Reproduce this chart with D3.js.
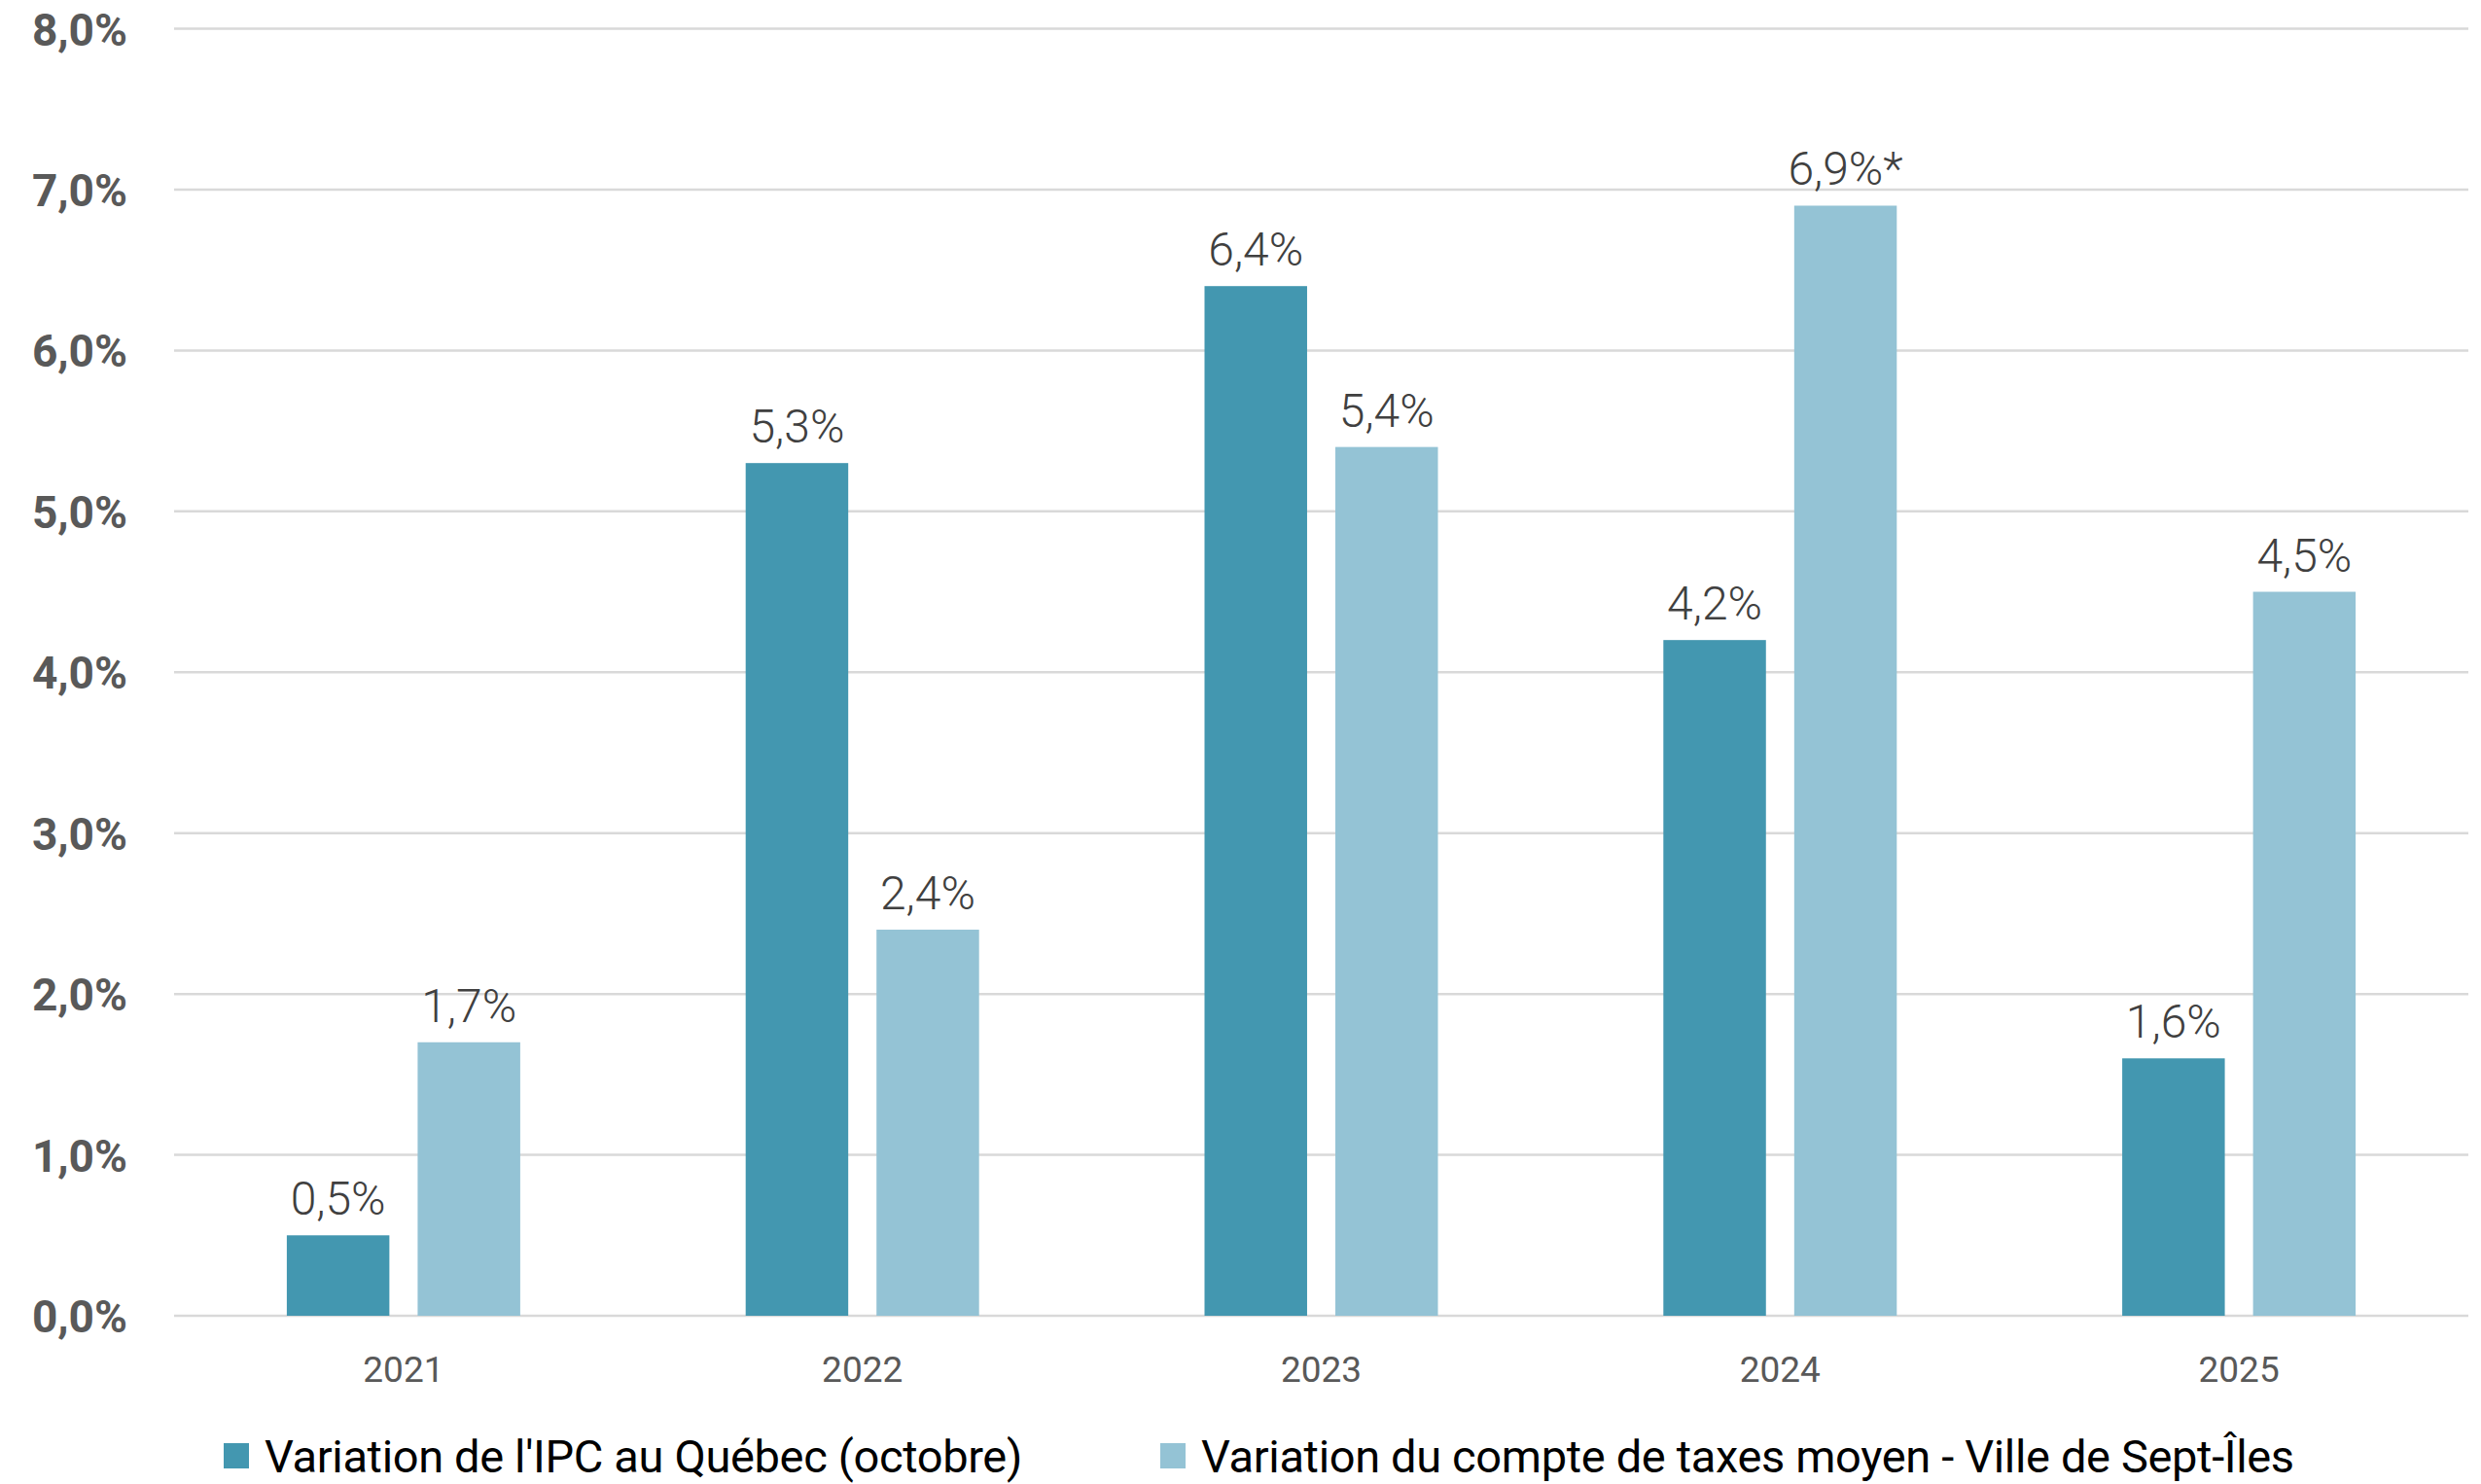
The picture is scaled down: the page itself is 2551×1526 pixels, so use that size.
<!DOCTYPE html>
<html>
<head>
<meta charset="utf-8">
<script src="https://cdn.jsdelivr.net/npm/d3@7"></script>
<style>
  body { margin: 0; background: #fff; }
  svg { display: block; }
</style>
</head>
<body>
<div id="chart"></div>
<script>
// data
var years = ["2021", "2022", "2023", "2024", "2025"];
var seriesNames = [
  "Variation de l'IPC au Québec (octobre)",
  "Variation du compte de taxes moyen - Ville de Sept-Îles"
];
var ipc = [0.5, 5.3, 6.4, 4.2, 1.6];
var taxes = [1.7, 2.4, 5.4, 6.9, 4.5];
var taxesNotes = ["", "", "", "*", ""];
var yTicks = [0, 1, 2, 3, 4, 5, 6, 7, 8];
var colors = ["#4397b0", "#94c3d5"];

var width = 2551, height = 1526;
var margin = {left: 179, right: 13, top: 29.5, bottom: 173};

var fr = d3.formatLocale({decimal: ",", thousands: " ", grouping: [3], currency: ["", "$"]});
var fmt = fr.format(".1f");

var rows = years.map(function(y, i) {
  return {year: y, values: [
    {s: 0, v: ipc[i], note: ""},
    {s: 1, v: taxes[i], note: taxesNotes[i]}
  ]};
});

var svg = d3.select("#chart").append("svg")
    .attr("width", width).attr("height", height);

var x0 = d3.scaleBand()
    .domain(years)
    .range([margin.left, width - margin.right])
    .padding(0);

var half = 120;
var x1 = d3.scaleBand()
    .domain([0, 1])
    .range([x0.bandwidth() / 2 - half, x0.bandwidth() / 2 + half])
    .paddingInner(0.216);

var y = d3.scaleLinear()
    .domain([0, 8])
    .range([height - margin.bottom, margin.top]);

// grid
svg.append("g")
  .selectAll("line")
  .data(yTicks)
  .enter().append("line")
    .attr("x1", margin.left)
    .attr("x2", width - margin.right)
    .attr("y1", function(d) { return y(d); })
    .attr("y2", function(d) { return y(d); })
    .attr("stroke", "#d9d9d9")
    .attr("stroke-width", 2.5);

// y axis labels
var yAxis = d3.axisLeft(y)
    .tickValues(yTicks)
    .tickSize(0)
    .tickPadding(0)
    .tickFormat(function(d) { return fmt(d) + "%"; });

var yg = svg.append("g")
    .attr("transform", "translate(131,0)")
    .call(yAxis);
yg.select(".domain").remove();
yg.selectAll("text")
    .attr("font-family", "Roboto")
    .attr("font-weight", "bold")
    .attr("font-size", 46)
    .attr("fill", "#595959")
    .attr("dy", "0.36em");

// x axis labels
var xAxis = d3.axisBottom(x0).tickSize(0).tickPadding(0);
var xg = svg.append("g")
    .attr("transform", "translate(0," + y(0) + ")")
    .call(xAxis);
xg.select(".domain").remove();
xg.selectAll("text")
    .attr("font-family", "Roboto")
    .attr("font-size", 37)
    .attr("fill", "#595959")
    .attr("y", 68)
    .attr("dy", 0);

// bars
var groups = svg.append("g")
  .selectAll("g")
  .data(rows)
  .enter().append("g")
    .attr("transform", function(d) { return "translate(" + x0(d.year) + ",0)"; });

groups.selectAll("rect")
  .data(function(d) { return d.values; })
  .enter().append("rect")
    .attr("x", function(d) { return x1(d.s); })
    .attr("width", x1.bandwidth())
    .attr("y", function(d) { return y(d.v); })
    .attr("height", function(d) { return y(0) - y(d.v); })
    .attr("fill", function(d) { return colors[d.s]; });

groups.selectAll("text")
  .data(function(d) { return d.values; })
  .enter().append("text")
    .attr("x", function(d) { return x1(d.s) + x1.bandwidth() / 2; })
    .attr("y", function(d) { return y(d.v) - 21; })
    .attr("text-anchor", "middle")
    .attr("font-family", "Roboto")
    .attr("font-weight", 300)
    .attr("font-size", 48)
    .attr("fill", "#404040")
    .text(function(d) { return fmt(d.v) + "%" + d.note; });

// legend
var legendX = [230, 1193];
var legend = svg.append("g")
  .selectAll("g")
  .data(seriesNames)
  .enter().append("g")
    .attr("transform", function(d, i) { return "translate(" + legendX[i] + ",1484)"; });

legend.append("rect")
    .attr("width", 26).attr("height", 26)
    .attr("fill", function(d, i) { return colors[i]; });

legend.append("text")
    .attr("x", 42)
    .attr("y", 30)
    .attr("font-family", "Roboto")
    .attr("font-size", 47)
    .attr("letter-spacing", -0.35)
    .attr("fill", "#000")
    .text(function(d) { return d; });
</script>
</body>
</html>
